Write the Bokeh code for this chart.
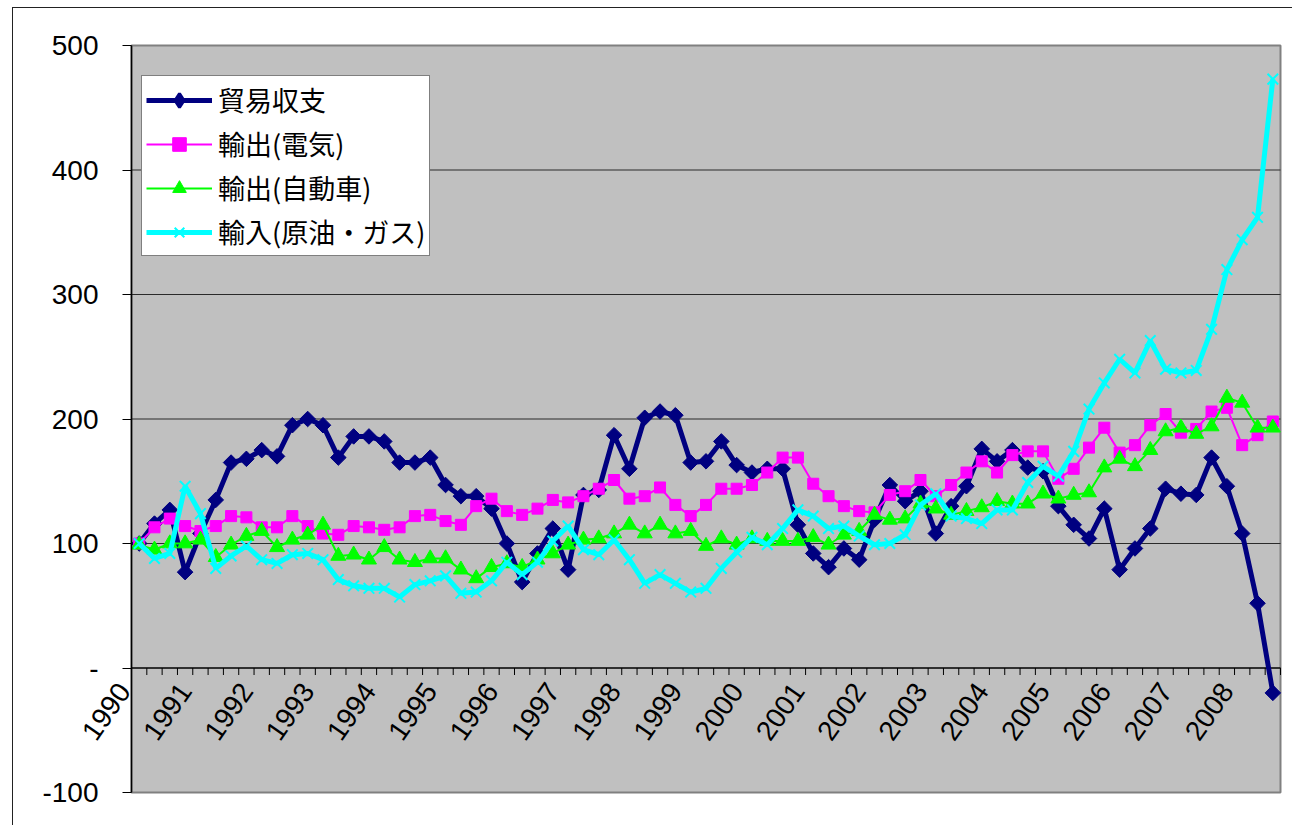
import math

from bokeh.plotting import figure
from bokeh.models import (ColumnDataSource, Range1d, FixedTicker, Legend,
                          LegendItem, LabelSet)
from bokeh.core.properties import value
from bokeh.embed import file_html
from bokeh.resources import INLINE

# Quarterly index, 1990 Q1 = 100 (1990 Q1 .. 2008 Q3)
year_labels = [str(y) for y in range(1990, 2009)]
series_names = ["貿易収支", "輸出(電気)", "輸出(自動車)", "輸入(原油・ガス)"]

trade_balance = [100, 116, 127, 77, 108, 135, 165, 168, 175, 170,
                 195, 200, 195, 169, 186, 186, 182, 165, 165, 169,
                 147, 138, 138, 128, 100, 69, 92, 112, 79, 139,
                 143, 187, 160, 201, 206, 203, 165, 166, 182, 163,
                 157, 160, 160, 115, 92, 81, 96, 87, 119, 147,
                 134, 142, 108, 130, 146, 176, 166, 175, 161, 158,
                 130, 115, 104, 128, 79, 96, 112, 144, 140, 139,
                 169, 146, 108, 52, -20]

exports_electric = [100, 113, 120, 114, 110, 114, 122, 121, 113, 113,
                    122, 114, 108, 107, 114, 113, 111, 113, 122, 123,
                    118, 115, 130, 136, 126, 123, 128, 135, 133, 138,
                    144, 151, 136, 138, 145, 131, 122, 131, 144, 144,
                    147, 157, 169, 169, 148, 138, 130, 126, 125, 139,
                    142, 151, 138, 147, 157, 166, 157, 171, 174, 174,
                    152, 160, 177, 193, 173, 179, 195, 204, 189, 192,
                    206, 209, 179, 187, 198]

exports_auto = [99, 95, 100, 100, 103, 89, 99, 106, 110, 97,
                103, 107, 115, 90, 91, 87, 97, 87, 85, 88,
                88, 79, 72, 81, 84, 81, 87, 92, 99, 103,
                104, 108, 115, 108, 115, 108, 110, 98, 104, 99,
                104, 102, 102, 102, 105, 99, 107, 110, 123, 119,
                120, 132, 128, 123, 126, 129, 134, 132, 132, 140,
                136, 139, 141, 161, 168, 162, 175, 190, 193, 188,
                194, 217, 213, 193, 193]

imports_oil_gas = [100, 88, 92, 146, 124, 80, 90, 98, 87, 84,
                   91, 92, 87, 71, 66, 64, 64, 57, 67, 70,
                   74, 60, 61, 70, 85, 75, 85, 102, 114, 95,
                   91, 103, 87, 68, 75, 68, 61, 64, 80, 93,
                   105, 99, 112, 127, 122, 112, 114, 106, 99, 100,
                   107, 131, 140, 122, 120, 116, 127, 127, 149, 162,
                   154, 174, 208, 229, 248, 237, 263, 240, 237, 239,
                   272, 320, 344, 362, 473]

y_ticks = [-100, 0, 100, 200, 300, 400, 500]
y_tick_labels = ["-100", "-", "100", "200", "300", "400", "500"]

n = len(trade_balance)
quarter = list(range(n))
y_min, y_max = y_ticks[0], y_ticks[-1]

# page geometry (pixels)
FIG_X, FIG_Y, W, H = 12, 7, 1280, 818          # chart box
AREA_L, AREA_R, AREA_T, AREA_B = 130, 1279, 44, 791   # grey plot area
FRAME_L, FRAME_R, FRAME_T, FRAME_B = 16, 1290, 30, 812

px_x = (AREA_R - AREA_L) / n
px_y = (AREA_B - AREA_T) / (y_max - y_min)
x_range = Range1d(-0.5 - (AREA_L - FRAME_L) / px_x, n - 0.5 + (FRAME_R - AREA_R) / px_x)
y_range = Range1d(y_min - (FRAME_B - AREA_B) / px_y, y_max + (AREA_T - FRAME_T) / px_y)

src = ColumnDataSource(dict(
    q=quarter,
    trade=trade_balance,
    elec=exports_electric,
    auto=exports_auto,
    oil=imports_oil_gas,
))

p = figure(width=W, height=H, output_backend="svg", toolbar_location=None,
           x_range=x_range, y_range=y_range, x_axis_type=None,
           min_border_left=FRAME_L - FIG_X, min_border_right=FIG_X + W - FRAME_R,
           min_border_top=FRAME_T - FIG_Y, min_border_bottom=FIG_Y + H - FRAME_B)
p.margin = (FIG_Y, 0, 0, FIG_X)
p.styles = {"border-top": "1px solid #222222", "border-left": "1px solid #222222"}
p.background_fill_color = "white"
p.border_fill_color = "white"
p.outline_line_color = None
p.xgrid.visible = False
p.ygrid.visible = False

# grey plot area
lo, hi = -0.5, n - 0.5
p.quad(left=[lo], right=[hi], bottom=[y_min], top=[y_max],
       fill_color="#C0C0C0", line_color="#808080", line_width=2)

# horizontal gridlines
grid_vals = [t for t in y_ticks if y_min < t < y_max and t != 0]
p.segment(x0=[lo] * len(grid_vals), x1=[hi] * len(grid_vals), y0=grid_vals, y1=grid_vals,
          line_color="#2a2a2a", line_width=1.2)

# category axis along the zero line, tick marks between quarters
p.segment(x0=[lo], x1=[hi], y0=[0], y1=[0], line_color="black", line_width=1.5)
bounds = [k - 0.5 for k in range(n + 1)]
tick_len = 7.0 / px_y
p.segment(x0=bounds, y0=[0] * len(bounds), x1=bounds, y1=[-tick_len] * len(bounds),
          line_color="black", line_width=1)

year_src = ColumnDataSource(dict(
    q=[4 * k for k in range(len(year_labels))],
    y=[0] * len(year_labels),
    label=year_labels,
))
p.add_layout(LabelSet(x="q", y="y", text="label", source=year_src,
                      angle=math.radians(55), text_align="right", text_baseline="middle",
                      x_offset=-15, y_offset=-18,
                      text_font=value("Liberation Sans"), text_font_size="28px",
                      text_color="black"))

# value axis at the left edge of the plot area
yax = p.yaxis[0]
yax.fixed_location = lo
yax.bounds = (y_min, y_max)
yax.ticker = FixedTicker(ticks=y_ticks)
yax.major_label_overrides = {t: s for t, s in zip(y_ticks, y_tick_labels)}
yax.major_label_text_font = "Liberation Sans"
yax.major_label_text_font_size = "28px"
yax.major_label_text_color = "black"
yax.axis_line_color = "black"
yax.axis_line_width = 1.5
yax.major_tick_line_color = "black"
yax.major_tick_line_width = 1.2
yax.major_tick_out = 9
yax.major_tick_in = 0
yax.minor_tick_line_color = None
yax.major_label_standoff = 24

# series
navy, magenta, lime, cyan = "#000080", "#FF00FF", "#00FF00", "#00FFFF"
r_tl = p.line("q", "trade", source=src, line_color=navy, line_width=5)
r_tkey = p.scatter("q", "trade", source=src, marker="diamond", size=10,
                   fill_color=navy, line_color=navy, line_width=3)
p.scatter("q", "trade", source=src, marker="square", angle=math.pi / 4,
          size=11, fill_color=navy, line_color=navy)
r_el = p.line("q", "elec", source=src, line_color=magenta, line_width=2)
r_em = p.scatter("q", "elec", source=src, marker="square", size=11,
                 fill_color=magenta, line_color=magenta)
r_al = p.line("q", "auto", source=src, line_color=lime, line_width=2)
r_am = p.scatter("q", "auto", source=src, marker="triangle", size=15,
                 fill_color=lime, line_color=lime)
r_ol = p.line("q", "oil", source=src, line_color=cyan, line_width=5)
r_om = p.scatter("q", "oil", source=src, marker="x", size=15,
                 line_color=cyan, line_width=2)

legend = Legend(items=[
    LegendItem(label=series_names[0], renderers=[r_tl, r_tkey]),
    LegendItem(label=series_names[1], renderers=[r_el, r_em]),
    LegendItem(label=series_names[2], renderers=[r_al, r_am]),
    LegendItem(label=series_names[3], renderers=[r_ol, r_om]),
], location=(140 - FRAME_L, FRAME_B - 255))
legend.label_text_font = "Noto Sans CJK JP"
legend.label_text_font_size = "27px"
legend.label_text_color = "black"
legend.glyph_width = 66
legend.glyph_height = 34
legend.label_height = 34
legend.label_standoff = 6
legend.spacing = 5
legend.padding = 4
legend.border_line_color = "black"
legend.border_line_width = 1
legend.background_fill_color = "white"
legend.background_fill_alpha = 1.0
p.add_layout(legend)

open("out.html", "w").write(file_html(p, INLINE))
